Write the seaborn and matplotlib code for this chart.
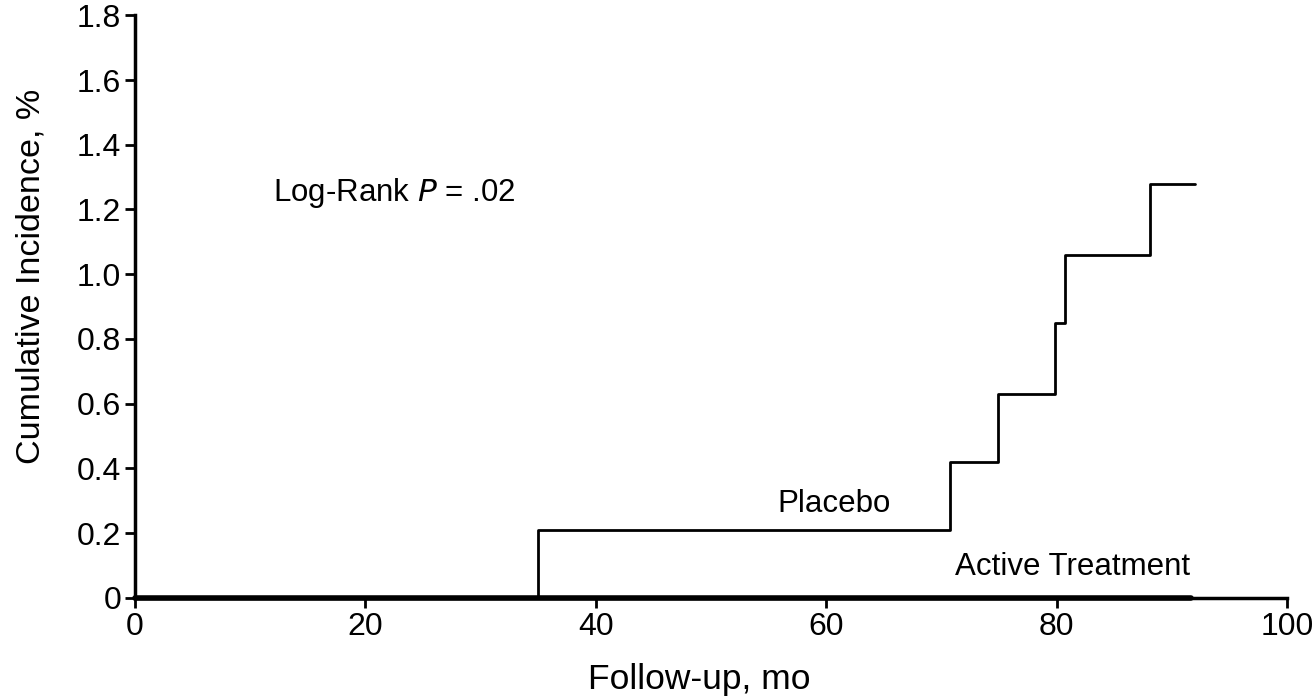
import matplotlib
matplotlib.use("Agg")
import pandas as pd
import seaborn as sns
import matplotlib.pyplot as plt

# step data
placebo_months = [0, 35.0, 70.7, 74.9, 79.9, 80.7, 88.1, 92.0]
placebo_incidence = [0, 0.21, 0.42, 0.63, 0.85, 1.06, 1.28, 1.28]
active_months = [0, 91.7]
active_incidence = [0, 0]

x_ticks = [0, 20, 40, 60, 80, 100]
y_ticks = [0, 0.2, 0.4, 0.6, 0.8, 1.0, 1.2, 1.4, 1.6, 1.8]
y_tick_labels = ["0", "0.2", "0.4", "0.6", "0.8", "1.0", "1.2", "1.4", "1.6", "1.8"]

placebo = pd.DataFrame({"month": placebo_months, "incidence": placebo_incidence})
active = pd.DataFrame({"month": active_months, "incidence": active_incidence})

sns.set_style("ticks")
plt.rcParams["font.family"] = ["Liberation Sans", "DejaVu Sans"]
plt.rcParams["text.color"] = "black"
plt.rcParams["axes.labelcolor"] = "black"
plt.rcParams["xtick.color"] = "black"
plt.rcParams["ytick.color"] = "black"

fig = plt.figure(figsize=(13.16, 6.96), dpi=100)
ax = fig.add_axes([0.1026, 0.141, 0.8754, 0.837])

sns.lineplot(data=placebo, x="month", y="incidence", drawstyle="steps-post",
             color="black", linewidth=2.0, ax=ax)
sns.lineplot(data=active, x="month", y="incidence", color="black",
             linewidth=4.0, ax=ax)

ax.set_xlim(0, 100)
ax.set_ylim(0, 1.8)
ax.set_xticks(x_ticks)
ax.set_yticks(y_ticks)
ax.set_yticklabels(y_tick_labels)
ax.tick_params(labelsize=23, width=2, length=7, color="black", pad=3)
for s in ["left", "bottom"]:
    ax.spines[s].set_linewidth(2.5)
    ax.spines[s].set_color("black")
sns.despine(ax=ax)
for sp in ax.spines.values():
    sp.set_clip_on(False)

ax.set_xlabel("Follow-up, mo", fontsize=25.5, labelpad=15)
ax.set_ylabel("Cumulative Incidence, %", fontsize=24.5, labelpad=22)
ax.xaxis.label.set_x(0.49)
ax.yaxis.label.set_y(0.552)

ax.text(12.0, 1.25, r"Log-Rank $\it{P}$ = .02", fontsize=22.5, va="center", ha="left")
ax.text(60.7, 0.29, "Placebo", fontsize=22.5, va="center", ha="center")
ax.text(71.2, 0.095, "Active Treatment", fontsize=22.5, va="center", ha="left")

for line in ax.lines:
    line.set_clip_on(False)

fig.savefig("out.png", dpi=100)
